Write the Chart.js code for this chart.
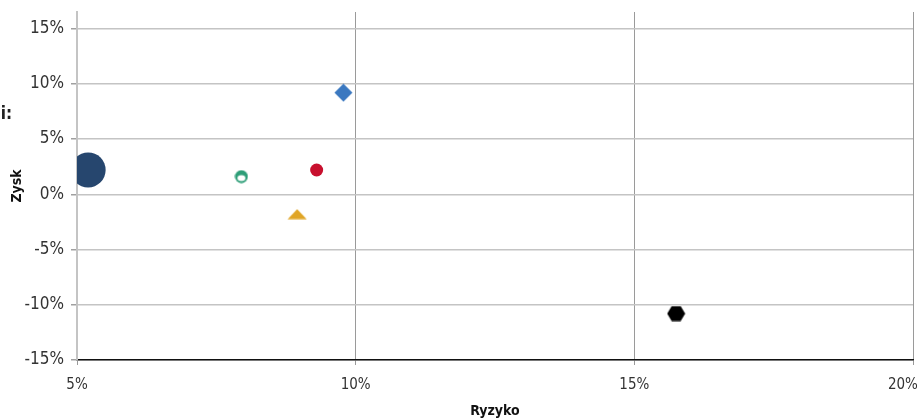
<!DOCTYPE html>
<html>
<head>
<meta charset="utf-8">
<script src="https://cdn.jsdelivr.net/npm/chart.js@4.4.1/dist/chart.umd.min.js"></script>
<style>
  html, body { margin: 0; padding: 0; background: #fff; }
  #wrap { width: 917px; height: 418px; }
</style>
</head>
<body>
<div id="wrap"><canvas id="riskChart"></canvas></div>
<script>
// dane (ryzyko / zysk w %)
const names = ["A", "B", "C", "D", "E", "F"];
const risk = [5.2, 7.95, 9.3, 8.95, 9.78, 15.75];
const ret = [2.2, 1.6, 2.2, -1.8, 9.2, -10.8];
const xTicks = [5, 10, 15, 20];
const yTicks = [-15, -10, -5, 0, 5, 10, 15];

const FONT = "'Liberation Sans Narrow', 'DejaVu Sans Condensed', 'Liberation Sans', sans-serif";

// custom markers
function marker(w, h, draw) {
  const c = document.createElement("canvas");
  c.width = w; c.height = h;
  draw(c.getContext("2d"), w, h);
  return c;
}
const ringGreen = marker(14, 14, (g) => {
  g.fillStyle = "#2e9e78";
  g.beginPath(); g.arc(7, 7, 6.5, 0, Math.PI * 2); g.fill();
  g.fillStyle = "#fff";
  g.beginPath(); g.ellipse(7, 8.6, 4, 3, 0, 0, Math.PI * 2); g.fill();
});
const triYellow = marker(20, 11, (g) => {
  g.fillStyle = "#e0a526";
  g.beginPath(); g.moveTo(10, 0.5); g.lineTo(19.5, 10.5); g.lineTo(0.5, 10.5); g.closePath(); g.fill();
});
const diamondBlue = marker(19, 19, (g) => {
  g.fillStyle = "#3b78c0";
  g.beginPath(); g.moveTo(9.5, 0.5); g.lineTo(18.5, 9.5); g.lineTo(9.5, 18.5); g.lineTo(0.5, 9.5); g.closePath(); g.fill();
});
const hexBlack = marker(19, 16, (g) => {
  g.fillStyle = "#000";
  g.beginPath();
  g.moveTo(0.5, 8); g.lineTo(5, 0.5); g.lineTo(14, 0.5); g.lineTo(18.5, 8); g.lineTo(14, 15.5); g.lineTo(5, 15.5);
  g.closePath(); g.fill();
});

const colors = ["#26466e", "#2e9e78", "#c8102e", "#e0a526", "#3b78c0", "#000000"];
const styles = ["circle", ringGreen, "circle", triYellow, diamondBlue, hexBlack];
const radii = [17.5, 7, 6.5, 7, 9, 9];

const datasets = names.map((n, i) => ({
  label: n,
  data: [{ x: risk[i], y: ret[i] }],
  backgroundColor: colors[i],
  borderColor: colors[i],
  borderWidth: 0,
  pointStyle: styles[i],
  pointRadius: radii[i],
  pointHoverRadius: radii[i]
}));

// obcięty tytuł legendy z lewej
const sideText = {
  id: "sideText",
  afterDraw(chart) {
    const g = chart.ctx;
    g.save();
    g.font = "bold 17px " + FONT;
    g.fillStyle = "#222";
    g.textAlign = "right";
    g.textBaseline = "middle";
    g.fillText("i:", 12, 115);
    g.restore();
  }
};

new Chart(document.getElementById("riskChart"), {
  type: "scatter",
  data: { datasets },
  plugins: [sideText],
  options: {
    responsive: true,
    maintainAspectRatio: false,
    animation: false,
    layout: { autoPadding: false, padding: { top: 12, right: 4, left: 0, bottom: 0 } },
    plugins: { legend: { display: false }, tooltip: { enabled: false } },
    scales: {
      x: {
        min: 5, max: 20,
        afterBuildTicks: (a) => { a.ticks = xTicks.map(v => ({ value: v })); },
        afterFit: (a) => { a.height = 58; a.paddingLeft = 0; a.paddingRight = 0; },
        grid: { color: "#9a9a9a", lineWidth: 1, tickLength: 5, tickColor: "#9a9a9a" },
        border: { color: "#111", width: 1.5 },
        ticks: {
          // ostatnia etykieta przesunięta w lewo, żeby się zmieściła
          callback: (v) => v === 20 ? v + "%\u2002\u2002\u2002" : v + "%",
          color: "#333", font: { family: FONT, size: 15 }, padding: 11, maxRotation: 0
        },
        title: { display: true, text: "Ryzyko", color: "#111", font: { family: FONT, size: 14, weight: "bold" }, padding: { top: 6, bottom: -2 } }
      },
      y: {
        min: -15, max: 16.5,
        afterBuildTicks: (a) => { a.ticks = yTicks.map(v => ({ value: v })); },
        afterFit: (a) => { a.width = 77; a.paddingTop = 0; a.paddingBottom = 0; },
        grid: { color: "#c4c4c4", lineWidth: 1.5, tickLength: 6, tickColor: "#a0a0a0" },
        border: { color: "#c4c4c4", width: 2 },
        ticks: { callback: (v) => v + "%", color: "#333", font: { family: FONT, size: 17 }, padding: 7 },
        title: { display: true, text: "Zysk", color: "#111", font: { family: FONT, size: 14, weight: "bold" }, padding: { top: 9, bottom: 4 } }
      }
    }
  }
});
</script>
</body>
</html>
